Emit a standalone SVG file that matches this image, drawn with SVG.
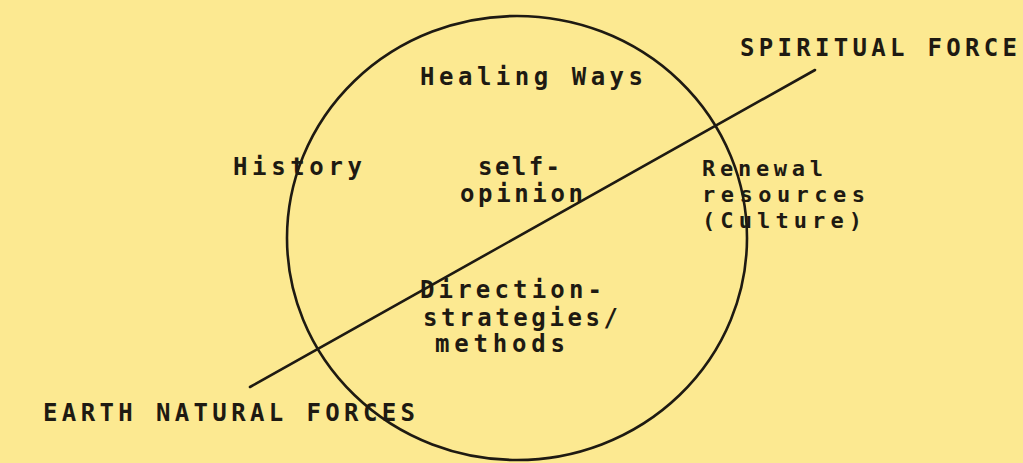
<svg xmlns="http://www.w3.org/2000/svg" width="1023" height="463" viewBox="0 0 1023 463">
<style>
.t{font-family:"DejaVu Sans Mono","Liberation Mono",monospace;font-size:24px;font-weight:bold;fill:#1e1a12;}
.r{font-size:22px;}
.s{fill:none;stroke:#1e1a12;stroke-width:2.6;stroke-linecap:round;}
</style>
<rect x="0" y="0" width="1023" height="463" fill="#fce991"/>
<g id="circle"><ellipse class="s" cx="517" cy="238" rx="230" ry="222"/></g>
<g id="connectors"><line class="s" x1="250" y1="387" x2="815" y2="70"/></g>
<g id="healing"><text class="t" x="420" y="85" textLength="223" lengthAdjust="spacing">Healing Ways</text></g>
<g id="history"><text class="t" x="233" y="175" textLength="129" lengthAdjust="spacing">History</text></g>
<g id="self"><text class="t" x="478" y="175" textLength="82" lengthAdjust="spacing">self-</text><text class="t" x="460" y="202" textLength="123" lengthAdjust="spacing">opinion</text></g>
<g id="renewal"><text class="t r" x="702" y="176" textLength="121" lengthAdjust="spacing">Renewal</text><text class="t r" x="702" y="202" textLength="163" lengthAdjust="spacing">resources</text><text class="t r" x="702" y="228" textLength="160" lengthAdjust="spacing">(Culture)</text></g>
<g id="spiritual"><text class="t" x="740" y="56" textLength="277" lengthAdjust="spacing">SPIRITUAL FORCE</text></g>
<g id="direction"><text class="t" x="420" y="298" textLength="182" lengthAdjust="spacing">Direction-</text><text class="t" x="423" y="326" textLength="195" lengthAdjust="spacing">strategies/</text><text class="t" x="435" y="352" textLength="130" lengthAdjust="spacing">methods</text></g>
<g id="earth"><text class="t" x="43" y="421" textLength="372" lengthAdjust="spacing">EARTH NATURAL FORCES</text></g>
</svg>
